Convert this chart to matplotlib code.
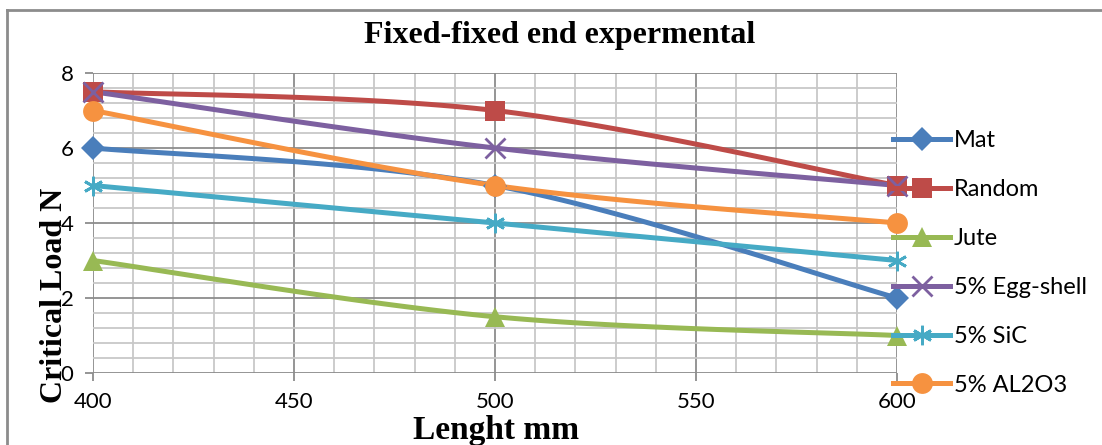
import numpy as np
import matplotlib
matplotlib.use("Agg")
import matplotlib.pyplot as plt
from matplotlib.lines import Line2D

lengths = [400, 500, 600]
series_names = ["Mat", "Random", "Jute", "5% Egg-shell", "5% SiC", "5% AL2O3"]
mat = [6, 5, 2]
random_ = [7.5, 7, 5]
jute = [3, 1.5, 1]
egg = [7.5, 6, 5]
sic = [5, 4, 3]
al2o3 = [7, 5, 4]
values = [mat, random_, jute, egg, sic, al2o3]

colors = ["#4A7EBB", "#BE4B48", "#98B954", "#7D60A0", "#46AAC5", "#F69240"]
markers = ["D", "s", "^", "x", (6, 2, 0), "o"]
msizes = [12, 14, 14, 14, 14, 15]


def smooth(xs, ys, n=40):
    # Excel-like smoothed line (Catmull-Rom style Bezier)
    P = np.column_stack([xs, ys]).astype(float)
    out = []
    for i in range(len(P) - 1):
        p0 = P[i - 1] if i > 0 else P[i]
        p1 = P[i]
        p2 = P[i + 1]
        p3 = P[i + 2] if i + 2 < len(P) else P[i + 1]
        c1 = p1 + (p2 - p0) / 6.0
        c2 = p2 - (p3 - p1) / 6.0
        t = np.linspace(0, 1, n)[:, None]
        seg = ((1 - t) ** 3) * p1 + 3 * ((1 - t) ** 2) * t * c1 + 3 * (1 - t) * t ** 2 * c2 + t ** 3 * p2
        out.append(seg if i == 0 else seg[1:])
    S = np.vstack(out)
    return S[:, 0], S[:, 1]


fig = plt.figure(figsize=(11.02, 4.45), dpi=100)
ax = fig.add_axes([93 / 1102, 1 - 373 / 445, (897 - 93) / 1102, (373 - 73) / 445])

# outer frame (top and left)
fig.add_artist(Line2D([7 / 1102, 1], [1 - 10 / 445, 1 - 10 / 445], color="#8c8c8c", lw=2.0, transform=fig.transFigure))
fig.add_artist(Line2D([7 / 1102, 7 / 1102], [0, 1 - 10 / 445], color="#8c8c8c", lw=2.0, transform=fig.transFigure))

ax.set_xlim(400, 600)
ax.set_ylim(0, 8)
ax.set_xticks([400, 450, 500, 550, 600])
ax.set_yticks([0, 2, 4, 6, 8])
ax.set_xticks(np.arange(400, 601, 10), minor=True)
ax.set_yticks(np.arange(0, 8.01, 0.4), minor=True)
ax.grid(which="minor", color="#c8c8c8", lw=1.3)
ax.grid(which="major", color="#8c8c8c", lw=1.3)
ax.tick_params(which="minor", length=0)
ax.tick_params(which="major", length=6, color="#8c8c8c", width=1.3, labelsize=16, pad=8)
for lbl in ax.get_xticklabels() + ax.get_yticklabels():
    lbl.set_fontfamily("Lato")
for s in ax.spines.values():
    s.set_visible(False)
ax.set_axisbelow(True)

handles = []
for name, vals, c, m, ms in zip(series_names, values, colors, markers, msizes):
    sx, sy = smooth(lengths, vals)
    ax.plot(sx, sy, color=c, lw=3.6, solid_capstyle="round", clip_on=False, zorder=3)
    mew = 2.0 if m in ("x", (6, 2, 0)) else 0
    ax.plot(lengths, vals, linestyle="none", marker=m, ms=ms, color=c, mec=c, mew=mew, clip_on=False, zorder=4)
    handles.append(Line2D([0], [0], color=c, lw=3.6, marker=m, ms=ms, mec=c, mew=mew))

leg = fig.legend(handles, series_names, loc="upper left", bbox_to_anchor=(884 / 1102, 1 - 121 / 445),
                 frameon=False, prop={"family": "Lato", "size": 17}, handlelength=2.4,
                 labelspacing=1.18, handletextpad=0.15, borderaxespad=0)

fig.text(560 / 1102, 1 - 35 / 445, "Fixed-fixed end expermental", ha="center", va="center",
         family="Liberation Serif", weight="bold", size=23)
fig.text(496 / 1102, 1 - 431 / 445, "Lenght mm", ha="center", va="center",
         family="Liberation Serif", weight="bold", size=24)
fig.text(55 / 1102, 1 - 295 / 445, "Critical Load N", ha="center", va="center", rotation=90,
         family="Liberation Serif", weight="bold", size=23)

fig.savefig("out.png", dpi=100)
